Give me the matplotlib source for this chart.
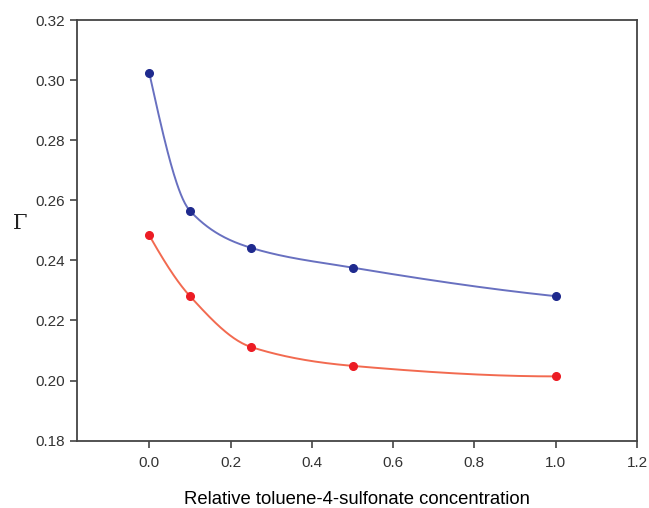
import numpy as np
import matplotlib
matplotlib.use("Agg")
import matplotlib.pyplot as plt

x_conc = [0.0, 0.1, 0.25, 0.5, 1.0]
gamma_blue = [0.3023, 0.2565, 0.2442, 0.2376, 0.2281]
gamma_red = [0.2483, 0.2281, 0.2112, 0.2049, 0.2014]
x_ticks = [0.0, 0.2, 0.4, 0.6, 0.8, 1.0, 1.2]
y_ticks = [0.18, 0.20, 0.22, 0.24, 0.26, 0.28, 0.30, 0.32]


def pchip(x, y, xs):
    x = np.asarray(x, float); y = np.asarray(y, float)
    h = np.diff(x); d = np.diff(y) / h
    n = len(x); m = np.zeros(n)
    for k in range(1, n - 1):
        if d[k - 1] * d[k] > 0:
            w1 = 2 * h[k] + h[k - 1]; w2 = h[k] + 2 * h[k - 1]
            m[k] = (w1 + w2) / (w1 / d[k - 1] + w2 / d[k])
    m[0] = ((2 * h[0] + h[1]) * d[0] - h[0] * d[1]) / (h[0] + h[1])
    if np.sign(m[0]) != np.sign(d[0]): m[0] = 0
    m[-1] = ((2 * h[-1] + h[-2]) * d[-1] - h[-1] * d[-2]) / (h[-1] + h[-2])
    if np.sign(m[-1]) != np.sign(d[-1]): m[-1] = 0
    out = np.empty_like(xs)
    idx = np.clip(np.searchsorted(x, xs) - 1, 0, n - 2)
    for i, xv in enumerate(xs):
        k = idx[i]; t = (xv - x[k]) / h[k]
        h00 = 2*t**3 - 3*t**2 + 1; h10 = t**3 - 2*t**2 + t
        h01 = -2*t**3 + 3*t**2; h11 = t**3 - t**2
        out[i] = h00*y[k] + h10*h[k]*m[k] + h01*y[k+1] + h11*h[k]*m[k+1]
    return out


fig = plt.figure(figsize=(6.49, 5.08), dpi=100)
ax = fig.add_axes([0.1186, 0.1325, 0.8629, 0.8281])

xs = np.linspace(x_conc[0], x_conc[-1], 400)
ax.plot(xs, pchip(x_conc, gamma_blue, xs), color="#6870c0", lw=1.4, zorder=2)
ax.plot(xs, pchip(x_conc, gamma_red, xs), color="#f26a50", lw=1.4, zorder=2)
ax.plot(x_conc, gamma_blue, "o", color="#1f2a8e", ms=5.5, zorder=3)
ax.plot(x_conc, gamma_red, "o", color="#ec1c24", ms=5.5, zorder=3)

ax.set_xlim(-0.178, 1.2)
ax.set_ylim(0.18, 0.32)
ax.set_xticks(x_ticks)
ax.set_yticks(y_ticks)
ax.set_xticklabels([f"{v:.1f}" for v in x_ticks])
ax.set_yticklabels([f"{v:.2f}" for v in y_ticks])
for s in ax.spines.values():
    s.set_color("#444444"); s.set_linewidth(1.3)
ax.tick_params(direction="out", length=5, width=1.2, color="#444444",
               labelsize=11, labelcolor="#333333")
ax.tick_params(axis="x", pad=6)
for lab in ax.get_xticklabels() + ax.get_yticklabels():
    lab.set_family("Liberation Sans")

ax.set_xlabel("Relative toluene-4-sulfonate concentration", fontsize=13.3,
              fontweight="normal", family="Liberation Sans", color="#000000")
ax.xaxis.set_label_coords(0.5, -0.12)
ax.set_ylabel("Γ", fontsize=15, family="DejaVu Serif", rotation=0,
              color="#222222", va="center", ha="center")
ax.yaxis.set_label_coords(-0.102, 0.517)

fig.savefig("out.png", dpi=100)
